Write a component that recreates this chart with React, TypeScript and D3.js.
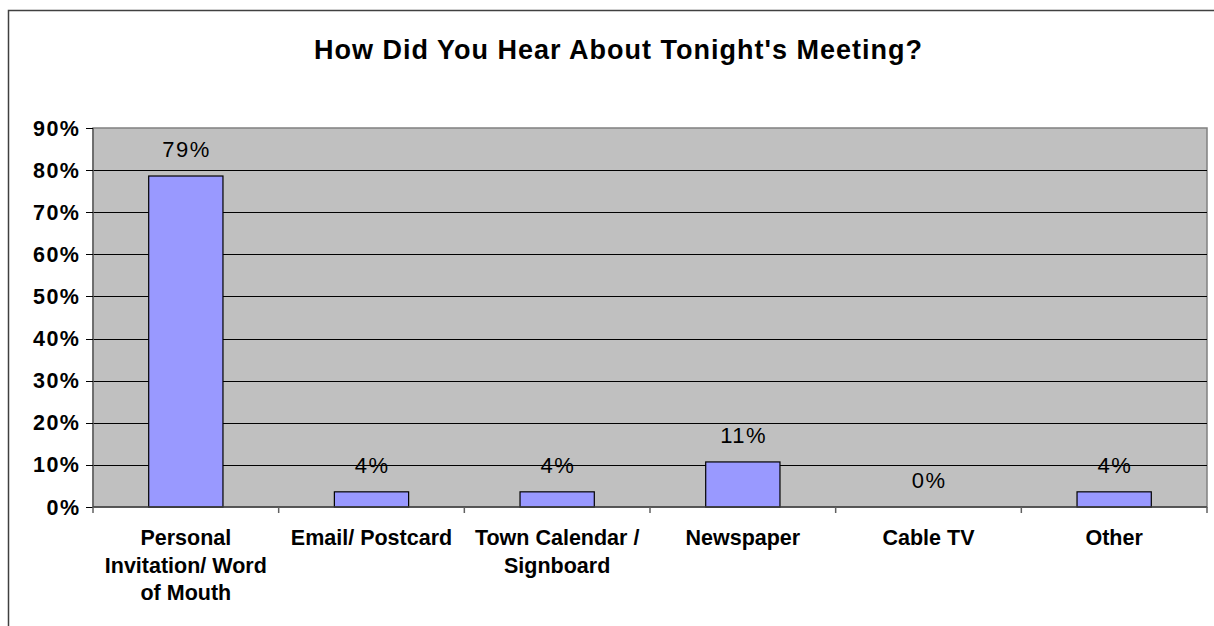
import React from "react";
import * as d3 from "d3";

const title = "How Did You Hear About Tonight's Meeting?";
const categories = [
  "Personal\nInvitation/ Word\nof Mouth",
  "Email/ Postcard",
  "Town Calendar /\nSignboard",
  "Newspaper",
  "Cable TV",
  "Other",
];
const values = [0.786, 0.036, 0.036, 0.107, 0.0, 0.036];
const valueLabels = ["79%", "4%", "4%", "11%", "0%", "4%"];
const yTicks = [0, 0.1, 0.2, 0.3, 0.4, 0.5, 0.6, 0.7, 0.8, 0.9];

const W = 1214;
const H = 626;
const plot = { left: 93, right: 1207, top: 128, bottom: 507 };
const font = "'Liberation Sans', Arial, sans-serif";

export default function App() {
  const x = d3
    .scaleBand<string>()
    .domain(categories)
    .range([plot.left, plot.right])
    .paddingInner(0)
    .paddingOuter(0);
  const y = d3.scaleLinear().domain([0, 0.9]).range([plot.bottom, plot.top]);
  const bw = x.bandwidth() * 0.4;
  const fmt = d3.format(".0%");

  return (
    <svg
      width={W}
      height={H}
      style={{ position: "absolute", left: 0, top: 0, background: "#fff" }}
    >
      <rect x={8.5} y={10.5} width={1400} height={800} fill="#fff" stroke="#404040" strokeWidth={1.5} />
      <text x={618.5} y={59} textAnchor="middle" fontFamily={font} fontWeight="bold" fontSize={27} letterSpacing={1} fill="#000">
        {title}
      </text>
      {/* plot area */}
      <rect
        x={plot.left}
        y={plot.top}
        width={plot.right - plot.left}
        height={plot.bottom - plot.top}
        fill="#C0C0C0"
        stroke="#808080"
        strokeWidth={1.5}
      />
      {yTicks
        .filter((t) => t > 0 && t < 0.9)
        .map((t) => (
          <line key={"g" + t} x1={plot.left} x2={plot.right} y1={Math.round(y(t)) + 0.5} y2={Math.round(y(t)) + 0.5} stroke="#000" strokeWidth={1} />
        ))}
      {categories.map((c, i) => {
        const cx = (x(c) as number) + x.bandwidth() / 2;
        const top = y(values[i]);
        return (
          <g key={c}>
            {values[i] > 0 && (
              <rect x={cx - bw / 2} y={top} width={bw} height={plot.bottom - top} fill="#9999FF" stroke="#000" strokeWidth={1.2} />
            )}
            <text x={cx + 0.75} y={top - 19} textAnchor="middle" fontFamily={font} fontSize={22} letterSpacing={1.5} fill="#000">
              {valueLabels[i]}
            </text>
          </g>
        );
      })}
      {/* y axis */}
      <line x1={plot.left} x2={plot.left} y1={plot.top} y2={plot.bottom} stroke="#606060" strokeWidth={1.5} />
      {yTicks.map((t) => (
        <g key={"t" + t}>
          <line x1={86} x2={plot.left} y1={Math.round(y(t)) + 0.5} y2={Math.round(y(t)) + 0.5} stroke="#000" strokeWidth={1} />
          <text x={80.5} y={y(t) + 7.5} textAnchor="end" fontFamily={font} fontWeight="bold" fontSize={21.5} letterSpacing={1.5} fill="#000">
            {fmt(t)}
          </text>
        </g>
      ))}
      {/* x axis */}
      <line x1={plot.left} x2={plot.right} y1={plot.bottom} y2={plot.bottom} stroke="#404040" strokeWidth={1.5} />
      {categories.map((c, i) => (
        <line key={"xt" + i} x1={x(c) as number} x2={x(c) as number} y1={plot.bottom} y2={plot.bottom + 6} stroke="#606060" strokeWidth={1.5} />
      ))}
      <line x1={plot.right} x2={plot.right} y1={plot.bottom} y2={plot.bottom + 6} stroke="#606060" strokeWidth={1.5} />
      {categories.map((c) => {
        const cx = (x(c) as number) + x.bandwidth() / 2;
        return (
          <text key={"l" + c} textAnchor="middle" fontFamily={font} fontWeight="bold" fontSize={21.5} fill="#000">
            {c.split("\n").map((line, j) => (
              <tspan key={j} x={cx} y={544.7 + j * 27.8}>
                {line}
              </tspan>
            ))}
          </text>
        );
      })}
    </svg>
  );
}
